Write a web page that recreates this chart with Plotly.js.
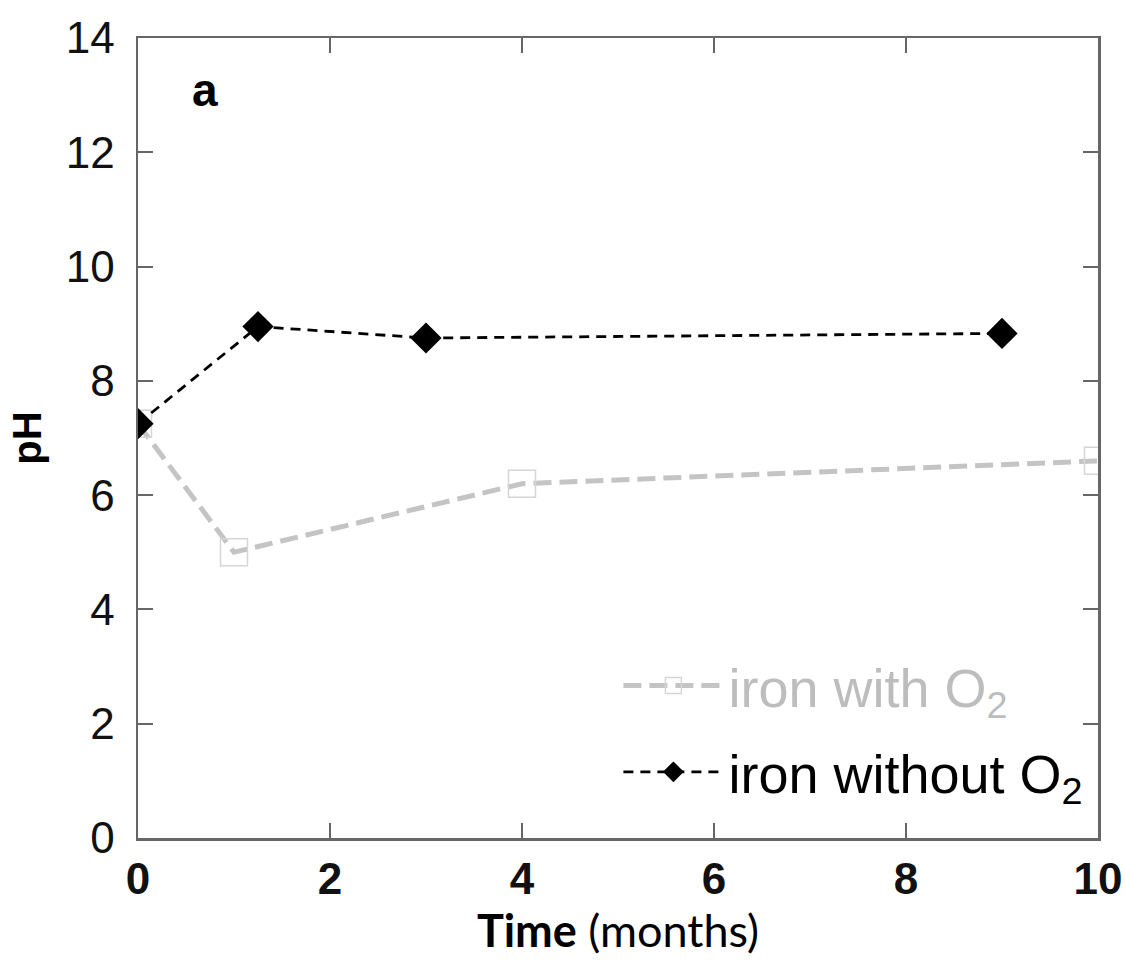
<!DOCTYPE html>
<html>
<head>
<meta charset="utf-8">
<script src="https://cdn.plot.ly/plotly-3.0.1.min.js"></script>
<style>html,body{margin:0;padding:0;background:#fff;}#chart{width:1125px;height:963px;}</style>
</head>
<body>
<div id="chart"></div>
<script>
var timeWithO2 = [0, 1, 4, 10];
var phWithO2 = [7.25, 5.0, 6.2, 6.6];
var timeWithoutO2 = [0, 1.25, 3, 9];
var phWithoutO2 = [7.25, 8.95, 8.75, 8.83];
var xTicks = [0, 2, 4, 6, 8, 10];
var yTicks = [0, 2, 4, 6, 8, 10, 12, 14];
var nameWith = '<span style="color:#bdbdbd">iron with O<sub>2</sub></span>';
var nameWithout = '<span style="color:#000">iron without O<sub>2</sub></span>';

var traces = [
  {
    x: timeWithO2, y: phWithO2, name: nameWith, mode: 'lines+markers', legendgroup: 'g1',
    line: {color: '#c4c4c4', width: 5, dash: '18px,8px'},
    marker: {symbol: 'square-open', size: 27, color: '#d6d6d6', line: {width: 1.5, color: '#d6d6d6'}}
  },
  {
    x: timeWithoutO2, y: phWithoutO2, name: nameWithout, mode: 'lines+markers', legendgroup: 'g2',
    line: {color: '#000', width: 2.8, dash: '10px,7px'},
    marker: {symbol: 'diamond', size: 24, color: '#000'}
  }
];

var axisCommon = {
  showline: true, mirror: 'ticks', linecolor: '#666', linewidth: 2.5,
  ticks: 'inside', ticklen: 15, tickwidth: 2, tickcolor: '#666',
  showgrid: false, zeroline: false
};

var layout = {
  width: 1125, height: 963,
  margin: {l: 138, r: 27, t: 38, b: 125},
  paper_bgcolor: '#fff', plot_bgcolor: '#fff',
  font: {family: 'Liberation Sans, Arial, sans-serif', color: '#000'},
  showlegend: true,
  legend: {
    x: 0.99, y: 0.03, xanchor: 'right', yanchor: 'bottom',
    bgcolor: 'rgba(0,0,0,0)', borderwidth: 0,
    font: {size: 54, family: 'Liberation Sans, Arial, sans-serif'},
    itemwidth: 100, tracegroupgap: 13, traceorder: 'grouped'
  },
  xaxis: Object.assign({}, axisCommon, {
    range: [0, 10], tickvals: xTicks, ticktext: xTicks.map(String),
    tickfont: {size: 44, family: 'Liberation Sans, Arial, sans-serif', weight: 'bold', color: '#111'},
    ticklabelstandoff: 1,
    title: {text: '<b>Time</b> (months)', font: {size: 45, family: 'Lato, Open Sans, sans-serif'}, standoff: 13}
  }),
  yaxis: Object.assign({}, axisCommon, {
    range: [0, 14], tickvals: yTicks, ticktext: yTicks.map(String),
    tickfont: {size: 44, family: 'Liberation Sans, Arial, sans-serif', color: '#111'},
    ticklabelstandoff: 12,
    title: {text: '<b>pH</b>', font: {size: 40, family: 'Liberation Sans, Arial, sans-serif'}, standoff: 12}
  }),
  annotations: [{
    xref: 'paper', yref: 'paper', x: 0.07, y: 0.935, xanchor: 'center', yanchor: 'middle',
    text: '<b>a</b>', showarrow: false, font: {size: 46, family: 'Liberation Sans, Arial, sans-serif'}
  }]
};

Plotly.newPlot('chart', traces, layout, {displayModeBar: false, staticPlot: true});
</script>
</body>
</html>
